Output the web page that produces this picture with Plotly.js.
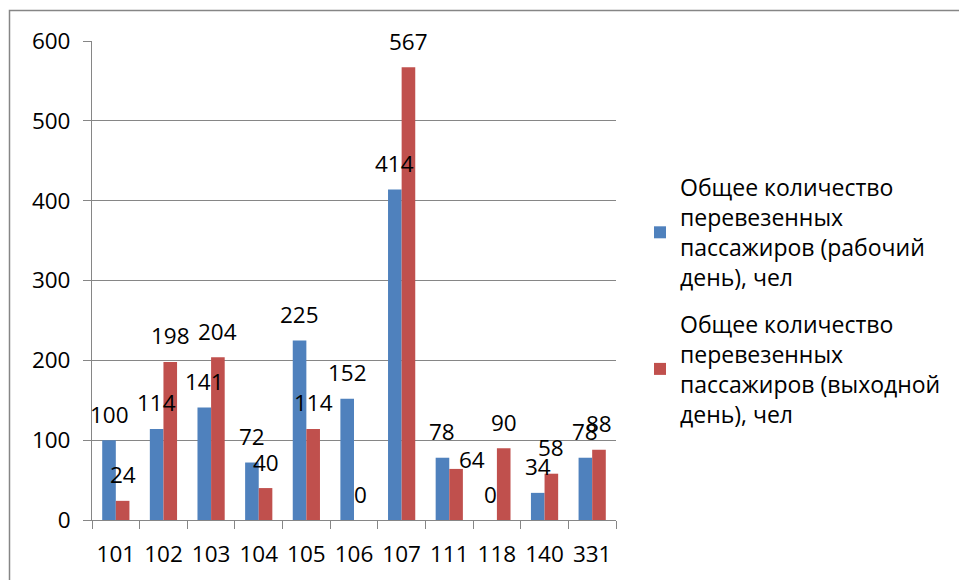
<!DOCTYPE html>
<html>
<head>
<meta charset="utf-8">
<script src="https://cdn.plot.ly/plotly-3.0.1.min.js"></script>
<style>html,body{margin:0;padding:0;background:#fff;}#chart{width:959px;height:580px;}</style>
</head>
<body>
<div id="chart"></div>
<script>
const categories = ["101","102","103","104","105","106","107","111","118","140","331"];
const workday = [100,114,141,72,225,152,414,78,0,34,78];
const weekend = [24,198,204,40,114,0,567,64,90,58,88];
const seriesNames = [
  "Общее количество<br>перевезенных<br>пассажиров (рабочий<br>день), чел",
  "Общее количество<br>перевезенных<br>пассажиров (выходной<br>день), чел"
];
const colors = ["#4F81BD", "#C0504D"];

// manual label nudges seen in the reference (pixel offsets, by category)
const weekendLabelNudge = {"111": {dx: 16, dy: -17}};

const FONT = "Open Sans, Noto Sans, sans-serif";
const FS = 22.5;
const gray = "#868686";

const traces = [
  {type:"bar", x:categories, y:workday, name:seriesNames[0], marker:{color:colors[0], line:{width:0}}, legendgroup:"a", hoverinfo:"none"},
  {type:"bar", x:categories, y:weekend, name:seriesNames[1], marker:{color:colors[1], line:{width:0}}, legendgroup:"b", hoverinfo:"none"}
];

const annotations = [];
const shift = 6.8, lift = 26;
categories.forEach((c,i)=>{
  annotations.push({x:i, y:workday[i], text:String(workday[i]), showarrow:false, xshift:-shift, yshift:lift, yanchor:"middle", xanchor:"center", font:{family:FONT,size:FS,color:"#000"}});
  const n = weekendLabelNudge[c] || {dx:0, dy:0};
  annotations.push({x:i, y:weekend[i], text:String(weekend[i]), showarrow:false, xshift:shift + n.dx, yshift:lift + n.dy, yanchor:"middle", xanchor:"center", font:{family:FONT,size:FS,color:"#000"}});
});

const L = 92, R = 343, T = 41, B = 60;
const pw = 959 - L - R, ph = 580 - T - B;

const layout = {
  width:959, height:580,
  margin:{l:L, r:R, t:T, b:B, pad:0},
  paper_bgcolor:"#fff", plot_bgcolor:"#fff",
  font:{family:FONT, size:FS, color:"#000"},
  barmode:"group",
  bargap:0.4286,
  bargroupgap:0,
  showlegend:true,
  legend:{x:(640-L)/pw, xanchor:"left", y:(520-301)/ph, yanchor:"middle", font:{family:FONT,size:23,color:"#000"}, tracegroupgap:14, bgcolor:"rgba(0,0,0,0)"},
  xaxis:{type:"category", range:[-0.5,10.5], autorange:false, showgrid:false, showline:true, linecolor:gray, linewidth:1, ticks:"outside", tickson:"boundaries", ticklen:8, tickcolor:gray, tickwidth:1, tickangle:0, ticklabelstandoff:14, tickfont:{family:FONT,size:FS,color:"#000"}, fixedrange:true},
  yaxis:{range:[0,600], autorange:false, dtick:100, tick0:0, showgrid:true, gridcolor:gray, gridwidth:1, showline:true, linecolor:gray, linewidth:1, ticks:"outside", ticklen:8, tickcolor:gray, tickwidth:1, ticklabelstandoff:8, zeroline:false, tickfont:{family:FONT,size:FS,color:"#000"}, fixedrange:true},
  annotations:annotations,
  shapes:[{type:"rect", xref:"paper", yref:"paper", x0:(9.5-L)/pw, x1:(1100-L)/pw, y0:(520-700)/ph, y1:(520-10.5)/ph, line:{color:gray, width:1.5}, fillcolor:"rgba(0,0,0,0)", layer:"below"}]
};

Plotly.newPlot("chart", traces, layout, {displayModeBar:false, staticPlot:true});
</script>
</body>
</html>
